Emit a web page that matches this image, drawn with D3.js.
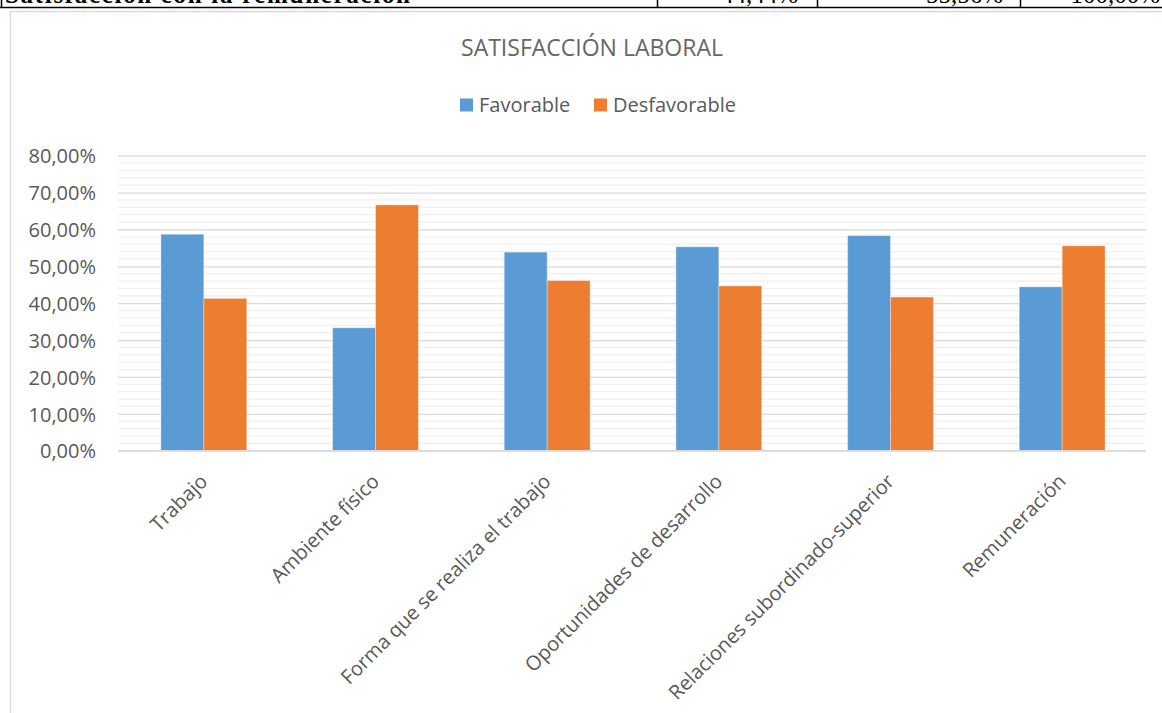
<!DOCTYPE html>
<html><head><meta charset="utf-8">
<script src="https://cdn.jsdelivr.net/npm/d3@7"></script>
<style>
html,body{margin:0;padding:0;background:#fff;}
svg{display:block;}
</style></head>
<body>
<svg id="chart" width="1162" height="713"></svg>
<script>
const categories = ["Trabajo","Ambiente físico","Forma que se realiza el trabajo","Oportunidades de desarrollo","Relaciones subordinado-superior","Remuneración"];
const seriesNames = ["Favorable","Desfavorable"];
const favorable = [0.587, 0.3333, 0.5385, 0.553, 0.5833, 0.4444];
const desfavorable = [0.413, 0.6667, 0.4615, 0.447, 0.4167, 0.5556];
const colors = ["#5B9BD5","#ED7D31"];
const yTicks = [0,0.1,0.2,0.3,0.4,0.5,0.6,0.7,0.8];
const tableRowLabel = "Satisfacción con la remuneración";
const tableRowValues = ["44,44%","55,56%","100,00%"];

const svg = d3.select("#chart");
const W = 1162, H = 713;
const plot = {left:118, right:1148, top:155.7, bottom:450.7};
const font = "'Open Sans', sans-serif";
const txt = "#595959";

// Cropped table row at top
const clip = svg.append("defs").append("clipPath").attr("id","topclip");
clip.append("rect").attr("x",0).attr("y",0).attr("width",W).attr("height",6.5);
const tg = svg.append("g").attr("clip-path","url(#topclip)");
tg.append("text").attr("x",5).attr("y",3).attr("font-family","'Liberation Serif', serif")
  .attr("font-size",25).attr("font-weight","bold").attr("fill","#000")
  .attr("textLength",405).attr("lengthAdjust","spacing").text(tableRowLabel);
const cellEnds = [798, 1003, 1160];
tableRowValues.forEach((v,i)=>{
  tg.append("text").attr("x",cellEnds[i]).attr("y",3).attr("text-anchor","end")
    .attr("font-family","'Liberation Serif', serif").attr("font-size",25).attr("fill","#000").text(v);
});
[1.5, 657.5, 817.5, 1020.5].forEach(x=>{
  svg.append("line").attr("x1",x).attr("x2",x).attr("y1",0).attr("y2",8).attr("stroke","#000").attr("stroke-width",1.5);
});
svg.append("line").attr("x1",0).attr("x2",W).attr("y1",7.5).attr("y2",7.5).attr("stroke","#000").attr("stroke-width",1.5);

// Chart frame
svg.append("path").attr("d",`M10.5,${H} V11.5 H${W}`).attr("fill","none").attr("stroke","#d9d9d9").attr("stroke-width",1.3);

// Scales
const x0 = d3.scaleBand().domain(categories).range([plot.left, plot.right]).paddingInner(0.5).paddingOuter(0.25);
const x1 = d3.scaleBand().domain(seriesNames).range([0, x0.bandwidth()]);
const y = d3.scaleLinear().domain([0,0.8]).range([plot.bottom, plot.top]);

// Minor gridlines
const minor = d3.range(0, 0.8001, 0.02).filter(v => Math.abs(v*10 - Math.round(v*10)) > 1e-6);
svg.append("g").selectAll("line").data(minor).join("line")
  .attr("x1",plot.left).attr("x2",1146).attr("y1",d=>y(d)).attr("y2",d=>y(d))
  .attr("stroke","#efefef").attr("stroke-width",1.3);

// Major gridlines via axis
const yAxis = d3.axisLeft(y).tickValues(yTicks).tickSize(-(1146-plot.left))
  .tickFormat(d => d3.format(".2f")(d*100).replace(".",",") + "%");
const yg = svg.append("g").attr("transform",`translate(${plot.left},0)`).call(yAxis);
yg.select(".domain").remove();
yg.selectAll(".tick line").attr("stroke","#d9d9d9").attr("stroke-width",1.3);
yg.selectAll(".tick text").attr("x",-22).attr("dy","0.36em").attr("font-family",font).attr("font-size",20).attr("fill",txt);

// Bars
const data = categories.map((c,i)=>({cat:c, vals:[favorable[i], desfavorable[i]]}));
const groups = svg.append("g").selectAll("g").data(data).join("g")
  .attr("transform", d=>`translate(${x0(d.cat)},0)`);
groups.selectAll("rect").data(d=>d.vals.map((v,j)=>({name:seriesNames[j], v, j})))
  .join("rect")
  .attr("x", d=>x1(d.name)).attr("width", x1.bandwidth())
  .attr("y", d=>y(d.v)).attr("height", d=>y(0)-y(d.v))
  .attr("fill", d=>colors[d.j])
  .attr("stroke","#ffffff").attr("stroke-opacity",0.35).attr("stroke-width",1);

// Baseline
svg.append("line").attr("x1",plot.left).attr("x2",1146).attr("y1",y(0)).attr("y2",y(0)).attr("stroke","#d9d9d9").attr("stroke-width",1.5);

// X axis labels
const xAxis = d3.axisBottom(x0).tickSize(0);
const xg = svg.append("g").attr("transform",`translate(0,${plot.bottom})`).call(xAxis);
xg.select(".domain").remove();
xg.selectAll(".tick text")
  .attr("font-family",font).attr("font-size",20).attr("fill",txt)
  .attr("text-anchor","end")
  .attr("transform","translate(0,27) rotate(-45)")
  .attr("x",0).attr("y",0).attr("dy","0.35em");

// Title
svg.append("text").attr("x",592).attr("y",56).attr("text-anchor","middle")
  .attr("font-family",font).attr("font-size",23).attr("fill","#666666").text("SATISFACCIÓN LABORAL");

// Legend
const legendItems = [{name:"Favorable", x:460},{name:"Desfavorable", x:594}];
legendItems.forEach((d,i)=>{
  svg.append("rect").attr("x",d.x).attr("y",98.5).attr("width",13).attr("height",13).attr("fill",colors[i]);
  svg.append("text").attr("x",d.x+19).attr("y",111.5).attr("font-family",font).attr("font-size",20).attr("fill",txt).text(d.name);
});
</script>
</body></html>
